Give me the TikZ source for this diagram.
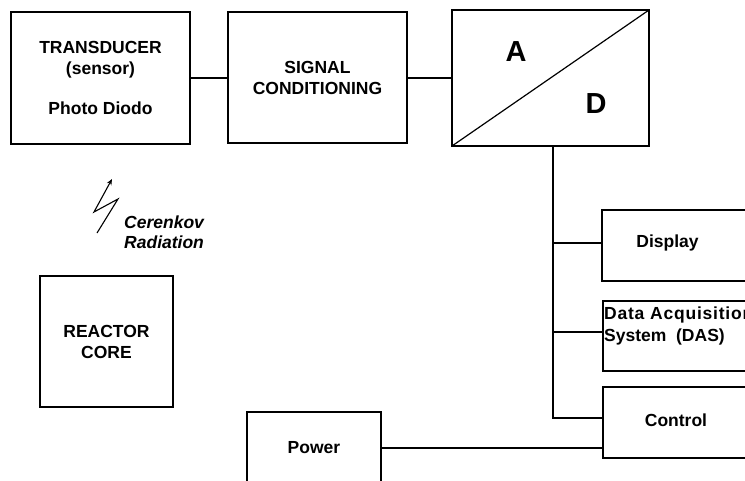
\documentclass[tikz,border=0pt]{standalone}
\usepackage{fontspec}
\setmainfont{Liberation Sans}
\usetikzlibrary{arrows.meta}

\begin{document}
\begin{tikzpicture}[
  x=1pt, y=-1pt,
  blockbox/.style={rectangle, draw=black, line width=1.8pt, inner sep=0pt, outer sep=0pt, align=center, font=\fontsize{17.5}{21}\selectfont\bfseries},
  labeltxt/.style={inner sep=0pt, font=\fontsize{17.5}{21}\selectfont\bfseries},
  bigtxt/.style={inner sep=0pt, font=\fontsize{29}{32}\selectfont\bfseries},
  wire/.style={line width=1.7pt}
]
  \path[use as bounding box, clip] (0,0) rectangle (745,480);

  % Cadena de medida arriba
  \node[blockbox, minimum width=179pt, minimum height=132pt] (trans) at (100.5,78) {TRANSDUCER\\(sensor)\\[19pt]Photo Diodo};
  \node[blockbox, minimum width=179pt, minimum height=131pt] (sigc) at (317.5,77.5) {SIGNAL\\CONDITIONING};
  \node[blockbox, minimum width=197pt, minimum height=136pt] (adc) at (550.5,78) {};
  \draw[line width=1.2pt] (adc.south west) -- (adc.north east);
  \node[bigtxt] (atxt) at (516,52) {A};
  \node[bigtxt] (dtxt) at (596,104) {D};

  % Reactor y radiacion
  \node[blockbox, minimum width=133pt, minimum height=131pt] (core) at (106.5,341.5) {REACTOR\\CORE};
  \draw[line width=1.1pt, -{Stealth[length=6pt, width=5pt]}] (97,233) -- (118,199) -- (94,212) -- (112,179);
  \node[labeltxt, anchor=west, align=left, font=\fontsize{17.5}{20}\selectfont\bfseries\itshape] (cer) at (124,232) {Cerenkov\\Radiation};

  % Salidas (cortadas a la derecha)
  \node[blockbox, minimum width=168pt, minimum height=71pt] (disp) at (686,245.5) {};
  \node[blockbox, minimum width=167pt, minimum height=70pt] (das) at (686.5,336) {};
  \node[blockbox, minimum width=167pt, minimum height=71pt] (ctrl) at (686.5,422.5) {};
  \node[labeltxt] (disptxt) at (667.5,243) {Display};
  \node[labeltxt, anchor=west, align=left, font=\fontsize{17.5}{22}\selectfont\bfseries] (dastxt) at (604,326) {{\addfontfeature{LetterSpace=4.5}Data Acquisition}\\System\ \ (DAS)};
  \node[labeltxt] (ctrltxt) at (676,420) {Control};
  \node[blockbox, minimum width=134pt, minimum height=72pt] (pow) at (314,448) {Power};

  % Conexiones
  \coordinate (b1) at (553,243);
  \coordinate (b2) at (553,332);
  \coordinate (b3) at (553,418);
  \draw[wire] (trans.east) -- (trans.east -| sigc.west);
  \draw[wire] (adc.west -| sigc.east) -- (adc.west);
  \draw[wire] (adc.south -| b3) -- (b3) -- (b3 -| ctrl.west);
  \draw[wire] (b1) -- (b1 -| disp.west);
  \draw[wire] (b2) -- (b2 -| das.west);
  \draw[wire] (pow.east) -- (pow.east -| ctrl.west);

\end{tikzpicture}
\end{document}
